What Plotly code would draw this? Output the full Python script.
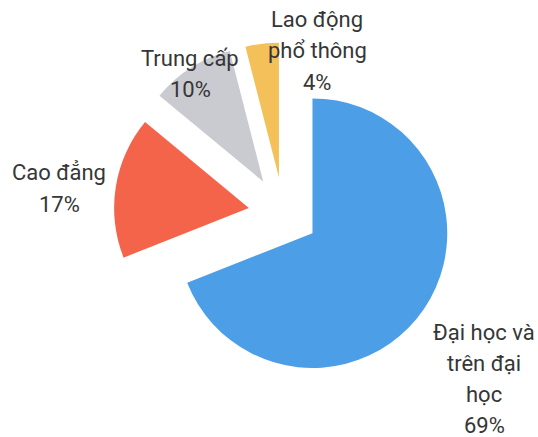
import plotly.graph_objects as go

# Education level shares (%)
categories = ["Đại học và trên đại học", "Cao đẳng", "Trung cấp", "Lao động phổ thông"]
shares = [69, 17, 10, 4]
label_lines = [["Đại học và", "trên đại", "học"], ["Cao đẳng"], ["Trung cấp"], ["Lao động", "phổ thông"]]
colors = ["#4C9FE6", "#F4644A", "#C9CBD0", "#F4C05A"]
pulls = [0.26, 0.26, 0.28, 0.27]

# label anchors in pixels: centre x, first-line y
label_anchor = [(484, 332), (59, 173), (190, 58), (317, 20)]
LINE_GAP = 31

W, H = 538, 437

fig = go.Figure(
    go.Pie(
        labels=categories,
        values=shares,
        sort=False,
        direction="clockwise",
        rotation=0,
        pull=pulls,
        marker=dict(colors=colors, line=dict(width=0)),
        textinfo="none",
        hoverinfo="skip",
        domain=dict(x=[0.2063, 0.8476], y=[0.1167, 0.9062]),
    )
)

annotations = []
for lines, val, (cx, y0) in zip(label_lines, shares, label_anchor):
    for i, txt in enumerate(lines + [f"{val}%"]):
        annotations.append(
            dict(
                text=txt,
                x=cx / W,
                y=1 - (y0 + i * LINE_GAP) / H,
                xref="paper",
                yref="paper",
                xanchor="center",
                yanchor="middle",
                showarrow=False,
                font=dict(family="Roboto", size=22, color="#363636"),
            )
        )

fig.update_layout(
    width=W,
    height=H,
    margin=dict(l=0, r=0, t=0, b=0),
    paper_bgcolor="white",
    plot_bgcolor="white",
    showlegend=False,
    annotations=annotations,
)

fig.write_html("out.html")
